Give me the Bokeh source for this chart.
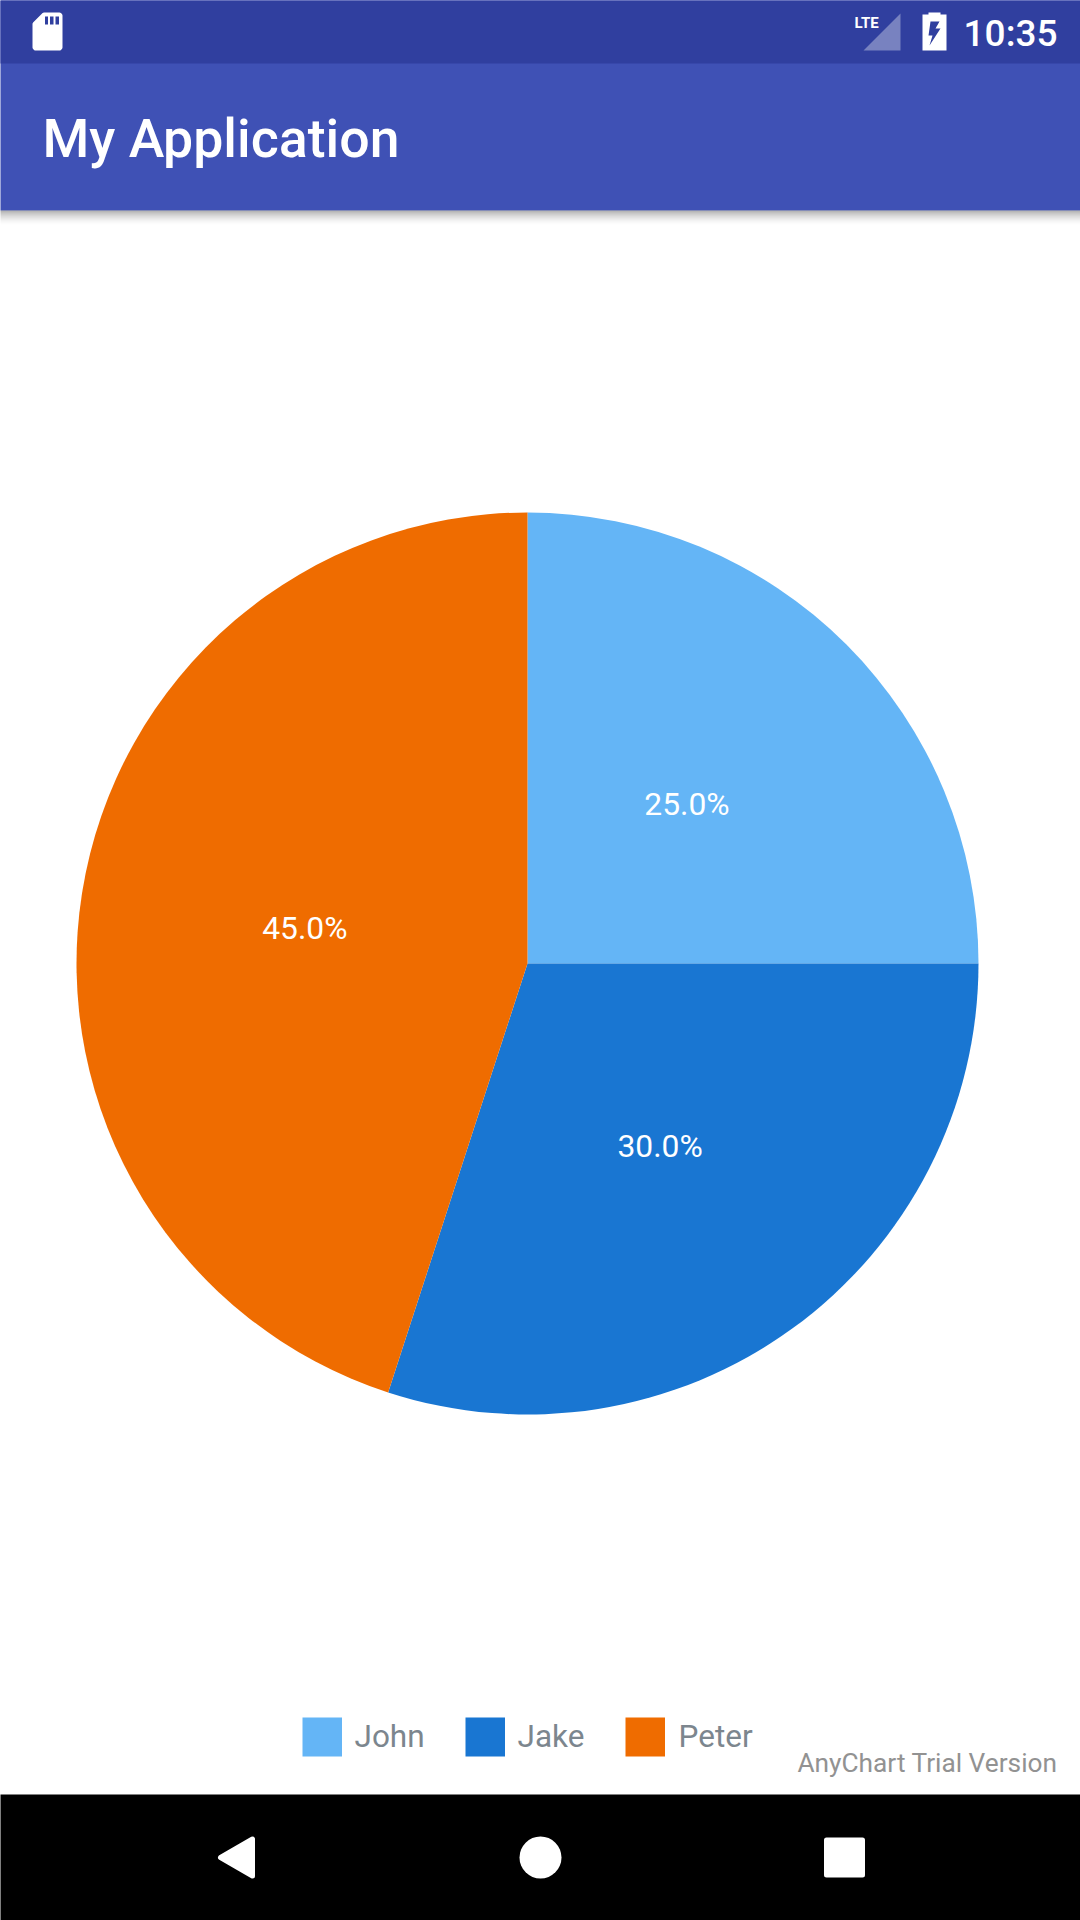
from math import cos, sin, pi
from bokeh.plotting import figure
from bokeh.models import Range1d, ColumnDataSource
from bokeh.core.properties import value
from bokeh.embed import file_html
from bokeh.resources import INLINE

categories = ["John", "Jake", "Peter"]
series_values = [25.0, 30.0, 45.0]
slice_labels = ["25.0%", "30.0%", "45.0%"]
slice_colors = ["#64B5F6", "#1976D2", "#EF6C00"]
app_title = "My Application"
clock_text = "10:35"
network_text = "LTE"
credit_text = "AnyChart Trial Version"

H = 1920
def Y(v):
    return H - v

p = figure(width=1080, height=1920, x_range=Range1d(0, 1080), y_range=Range1d(0, 1920),
           toolbar_location=None, output_backend="svg", min_border=0)
p.axis.visible = False
p.grid.visible = False
p.outline_line_color = None
p.background_fill_color = "#FFFFFF"
p.border_fill_color = "#FFFFFF"

def rect(x0, y0, x1, y1, color, alpha=1.0):
    p.quad(left=[x0], right=[x1], top=[Y(y0)], bottom=[Y(y1)], fill_color=color,
           fill_alpha=alpha, line_color=None)

def poly(xs, ys, color, alpha=1.0, stroke=0):
    p.patch(xs, [Y(v) for v in ys], fill_color=color, fill_alpha=alpha,
            line_color=color if stroke else None, line_width=stroke or 1, line_join="round")

def label(x, y, s, size, color, align="left", font="Roboto", style="normal"):
    p.text([x], [Y(y)], text=[s], text_font=value(font), text_font_size=f"{size}px",
           text_color=color, text_align=align, text_baseline="middle", text_font_style=style)

# ---- app chrome ----
rect(-5, -5, 1085, 210, "#3F51B5")
rect(-5, -5, 1085, 63, "#303F9F")
for i in range(16):
    rect(-5, 210 + i, 1085, 211 + i, "#000000", 0.32 * (1 - i / 16) ** 2)
rect(-5, 1794, 1085, 1925, "#000000")

# status bar: SD card icon
poly([43.5, 59, 60, 60, 59, 35, 34, 34], [14, 14, 15, 47, 48, 48, 47, 23.5], "#FFFFFF", stroke=4)
for a, b in [(44.5, 47.5), (49.5, 53), (55, 58.5)]:
    rect(a, 16, b, 24, "#303F9F")
# status bar: signal, battery, clock
poly([863, 900, 900], [50, 50, 13], "#FFFFFF", 0.35)
label(854, 22.5, network_text, 15, "#FFFFFF", style="bold")
rect(928, 12, 940, 15, "#FFFFFF")
rect(922, 14, 946, 50, "#FFFFFF")
poly([930, 939, 935, 940, 929, 932, 928], [21, 21, 28, 28, 45, 35, 35], "#303F9F")
label(1057, 32.5, clock_text, 37, "#FFFFFF", align="right", font="Roboto Medium")
label(42, 137.5, app_title, 53.5, "#FFFFFF", font="Roboto Medium")

# ---- pie ----
cx, cy, r = 527, 963, 451
total = sum(series_values)
start = 90.0
starts, ends, lx, ly = [], [], [], []
for v in series_values:
    sweep = v / total * 360
    end = start - sweep
    starts.append(start * pi / 180)
    ends.append(end * pi / 180)
    mid = (start + end) / 2 * pi / 180
    lx.append(cx + r * 0.5 * cos(mid))
    ly.append(Y(cy) + r * 0.5 * sin(mid))
    start = end
src = ColumnDataSource(dict(start=starts, end=ends, color=slice_colors, lx=lx, ly=ly, txt=slice_labels))
p.wedge(x=cx, y=Y(cy), radius=r, start_angle="start", end_angle="end", direction="clock",
        fill_color="color", line_color=None, source=src)
p.text("lx", "ly", text="txt", source=src, text_font=value("Roboto"), text_font_size="31.8px",
       text_color="#FFFFFF", text_align="center", text_baseline="middle")

# ---- legend ----
box_x = [302, 465, 625]
text_x = [354, 517, 678]
for name, color, bx, tx in zip(categories, slice_colors, box_x, text_x):
    rect(bx, 1717, bx + 39.5, 1756, color)
    label(tx, 1736, name, 31.5, "#7C868E")
label(1057, 1762.5, credit_text, 26.25, "#929292", align="right")

# ---- nav bar ----
poly([220, 252, 252], [1857, 1838.5, 1875.5], "#FFFFFF", stroke=5)
p.circle(x=[540], y=[Y(1857)], radius=21, fill_color="#FFFFFF", line_color=None)
poly([826, 862, 862, 826], [1839.5, 1839.5, 1874.5, 1874.5], "#FFFFFF", stroke=5)

open("out.html", "w").write(file_html(p, INLINE))
